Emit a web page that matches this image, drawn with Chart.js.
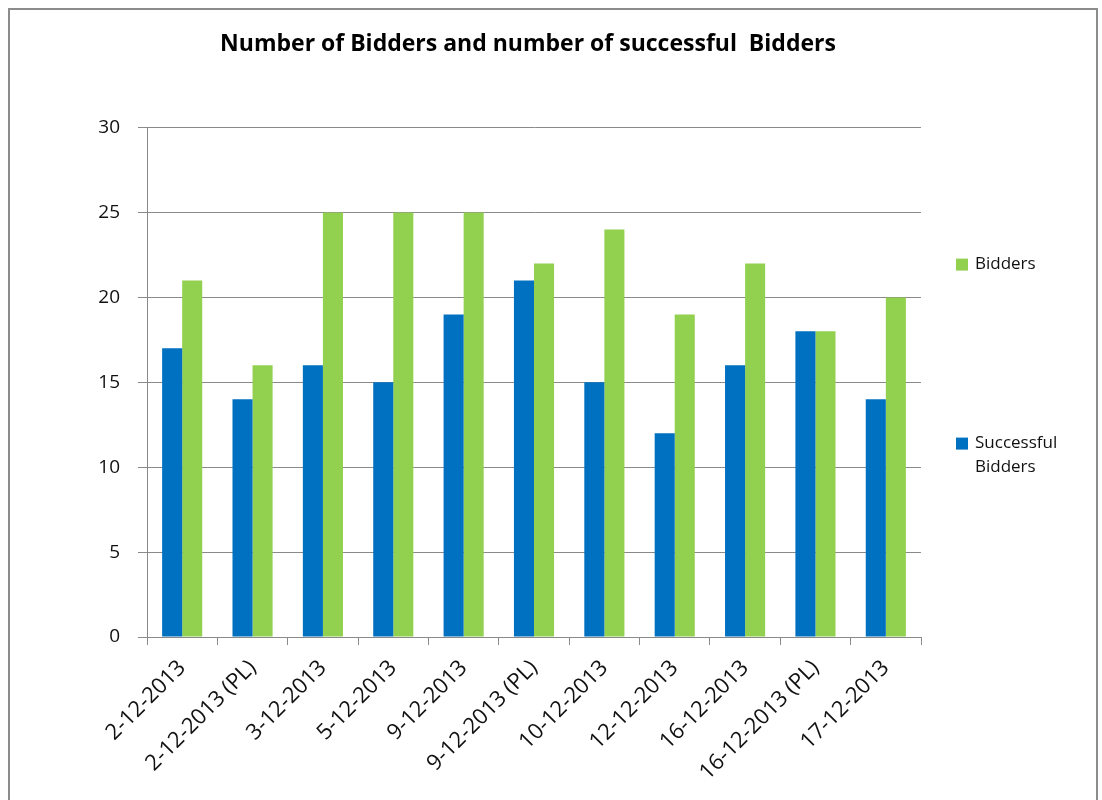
<!DOCTYPE html>
<html>
<head>
<meta charset="utf-8">
<script src="https://cdn.jsdelivr.net/npm/chart.js@4"></script>
<style>
  body { margin: 0; background: #fff; }
  #frame {
    position: absolute; left: 8px; top: 8px;
    width: 1086px; height: 800px;
    border: 2px solid #8c8c8c; border-bottom: none;
  }
  #wrap { position: absolute; left: 0; top: 0; width: 1102px; height: 800px; }
</style>
</head>
<body>
<div id="frame"></div>
<div id="wrap"><canvas id="myChart" width="1102" height="800"></canvas></div>
<script>
// data
const dates = [
  "2-12-2013",
  "2-12-2013 (PL)",
  "3-12-2013",
  "5-12-2013",
  "9-12-2013",
  "9-12-2013 (PL)",
  "10-12-2013",
  "12-12-2013",
  "16-12-2013",
  "16-12-2013 (PL)",
  "17-12-2013",
];
const successfulBidders = [17, 14, 16, 15, 19, 21, 15, 12, 16, 18, 14];
const bidders = [21, 16, 25, 25, 25, 22, 24, 19, 22, 18, 20];
const yTicks = [0, 5, 10, 15, 20, 25, 30];

const FONT = "'Open Sans', 'Liberation Sans', sans-serif";
const GRID = "#8a8a8a";

// legend sits to the right of the plot, as in the original
const sideLegend = {
  id: "sideLegend",
  afterDraw(chart) {
    const { ctx, chartArea } = chart;
    const rows = [
      { ds: 1, lines: ["Bidders"], dy: 137 },
      { ds: 0, lines: ["Successful", "Bidders"], dy: 316 },
    ];
    ctx.save();
    ctx.font = "17px " + FONT;
    ctx.textBaseline = "middle";
    rows.forEach((r) => {
      const x = chartArea.right + 35;
      const y = chartArea.top + r.dy;
      ctx.fillStyle = chart.data.datasets[r.ds].backgroundColor;
      ctx.fillRect(x, y - 6, 12, 12);
      ctx.fillStyle = "#111";
      r.lines.forEach((t, i) => ctx.fillText(t, x + 19, y + i * 24));
    });
    ctx.restore();
  },
};

// config
const config = {
  type: "bar",
  data: {
    labels: dates,
    datasets: [
      {
        label: "Successful Bidders",
        data: successfulBidders,
        backgroundColor: "#0070C0",
        barPercentage: 1,
        categoryPercentage: 0.57,
      },
      {
        label: "Bidders",
        data: bidders,
        backgroundColor: "#92D050",
        barPercentage: 1,
        categoryPercentage: 0.57,
      },
    ],
  },
  options: {
    responsive: false,
    animation: false,
    layout: {
      padding: { left: 0, right: 46, top: 0, bottom: 0 },
    },
    scales: {
      x: {
        afterFit(axis) {
          axis.height = 163;
        },
        grid: {
          display: true,
          drawOnChartArea: false,
          drawTicks: true,
          tickLength: 8,
          color: GRID,
        },
        border: { color: GRID },
        ticks: {
          maxRotation: 45,
          minRotation: 45,
          autoSkip: false,
          padding: 10,
          color: "#111",
          font: { size: 22, family: FONT },
        },
      },
      y: {
        min: 0,
        max: 30,
        afterFit(axis) {
          axis.width = 147;
        },
        afterBuildTicks(axis) {
          axis.ticks = yTicks.map((v) => ({ value: v }));
        },
        grid: { color: GRID, tickLength: 9 },
        border: { color: GRID },
        ticks: {
          padding: 18,
          color: "#111",
          font: { size: 19, family: FONT },
        },
      },
      // empty axis that only keeps room for the legend on the right
      side: {
        position: "right",
        afterFit(axis) {
          axis.width = 135;
        },
        grid: { display: false },
        border: { display: false },
        ticks: { display: false },
      },
    },
    plugins: {
      title: {
        display: true,
        text: "Number of Bidders and number of successful  Bidders",
        color: "#000",
        font: { size: 23, weight: "bold", family: FONT },
        padding: { top: 31, bottom: 69 },
      },
      legend: { display: false },
      tooltip: { enabled: false },
    },
  },
  plugins: [sideLegend],
};

const myChart = new Chart(document.getElementById("myChart"), config);
</script>
</body>
</html>
